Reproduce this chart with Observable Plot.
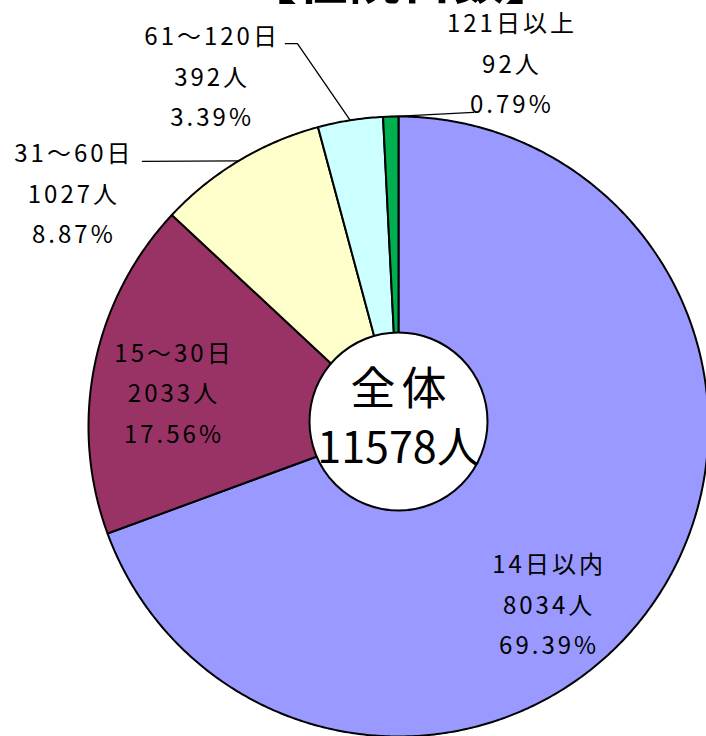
<!DOCTYPE html>
<html>
<head>
<meta charset="utf-8">
<script src="https://cdn.jsdelivr.net/npm/d3@7"></script>
<script src="https://cdn.jsdelivr.net/npm/@observablehq/plot@0.6"></script>
<style>
html, body { margin: 0; padding: 0; background: #fff; overflow: hidden; }
#wrap { position: relative; width: 706px; height: 736px; overflow: hidden; }
#chart svg { display: block; overflow: visible; }
#title {
  position: absolute; left: 95px; width: 612px; top: -49px;
  text-align: center; font: bold 52px/52px "Noto Sans CJK JP", sans-serif; color: #000;
  white-space: nowrap;
}
#chart g[font-size="24"] text { letter-spacing: 3px; }
#chart g[font-size="45"] text { letter-spacing: 6px; }
</style>
</head>
<body>
<div id="wrap">
  <div id="chart"></div>
  <div id="title"></div>
</div>
<script>
// ---- data ----
const titleText = "【在院日数】";
const categories = ["14日以内", "15～30日", "31～60日", "61～120日", "121日以上"];
const counts = [8034, 2033, 1027, 392, 92];
const colors = ["#9999FF", "#993366", "#FFFFCC", "#CCFFFF", "#00B050"];
const centerTitle = "全体";
const unit = "人";

// ---- label layout (unit-radius coordinates, y up) ----
const labelAt = [[0.481, -0.571], [-0.729, 0.110], [-1.052, 0.755], [-0.606, 1.132], [0.361, 1.174]];
// leader line elbows (null = no leader)
const leaderElbows = [null, null, [[-0.826, 0.855]], [[-0.365, 1.235], [-0.326, 1.235]], [[0.242, 1.013]]];

document.getElementById("title").textContent = titleText;

const total = d3.sum(counts);
const arcs = d3.pie().sort(null).value(d => d)(counts);

// slice polygons built from the pie angles (x = sin a, y = cos a, clockwise from top)
const slices = arcs.map((a, i) => {
  const n = Math.max(2, Math.ceil((a.endAngle - a.startAngle) / (Math.PI / 360)));
  const ring = [[0, 0]];
  for (let k = 0; k <= n; ++k) {
    const t = a.startAngle + (a.endAngle - a.startAngle) * k / n;
    ring.push([Math.sin(t), Math.cos(t)]);
  }
  ring.push([0, 0]);
  return {type: "Feature", properties: {name: categories[i]}, geometry: {type: "Polygon", coordinates: [ring]}};
});

const labels = arcs.map((a, i) => ({
  x: labelAt[i][0], y: labelAt[i][1],
  text: `${categories[i]}\n${counts[i]}${unit}\n${(counts[i] / total * 100).toFixed(2)}%`
}));

const leaders = [];
arcs.forEach((a, i) => {
  if (!leaderElbows[i]) return;
  const mid = (a.startAngle + a.endAngle) / 2;
  const pts = [...leaderElbows[i], [Math.sin(mid), Math.cos(mid)]];
  pts.forEach(p => leaders.push({g: i, x: p[0], y: p[1]}));
});

const font = "'Noto Sans CJK JP', sans-serif";

const chart = Plot.plot({
  width: 706,
  height: 736,
  marginLeft: 88,
  marginRight: -2,
  marginTop: 116,
  marginBottom: 0,
  projection: {type: "reflect-y", clip: false, domain: {type: "MultiPoint", coordinates: [[-1, -1], [1, 1]]}},
  color: {domain: categories, range: colors},
  marks: [
    Plot.geo(slices, {fill: d => d.properties.name, stroke: "black", strokeWidth: 2, clip: false}),
    Plot.line(leaders, {x: "x", y: "y", z: "g", stroke: "black", strokeWidth: 1.3, curve: "linear", clip: false}),
    Plot.dot([{x: 0, y: 0}], {x: "x", y: "y", r: 89, dy: -5, fill: "white", stroke: "black", strokeWidth: 2, clip: false}),
    Plot.text(labels, {x: "x", y: "y", text: "text", fontSize: 24, lineHeight: 1.7, textAnchor: "middle", dx: 1.5, dy: -3, fill: "black", fontFamily: font, clip: false}),
    Plot.text([centerTitle], {x: () => 0, y: () => 0, text: d => d, fontSize: 45, dy: -36, dx: 3, fill: "black", fontFamily: font}),
    Plot.text([`${total}${unit}`], {x: () => 0, y: () => 0, text: d => d, fontSize: 43, dy: 23, fill: "black", fontFamily: font})
  ]
});
document.getElementById("chart").appendChild(chart);
</script>
</body>
</html>
